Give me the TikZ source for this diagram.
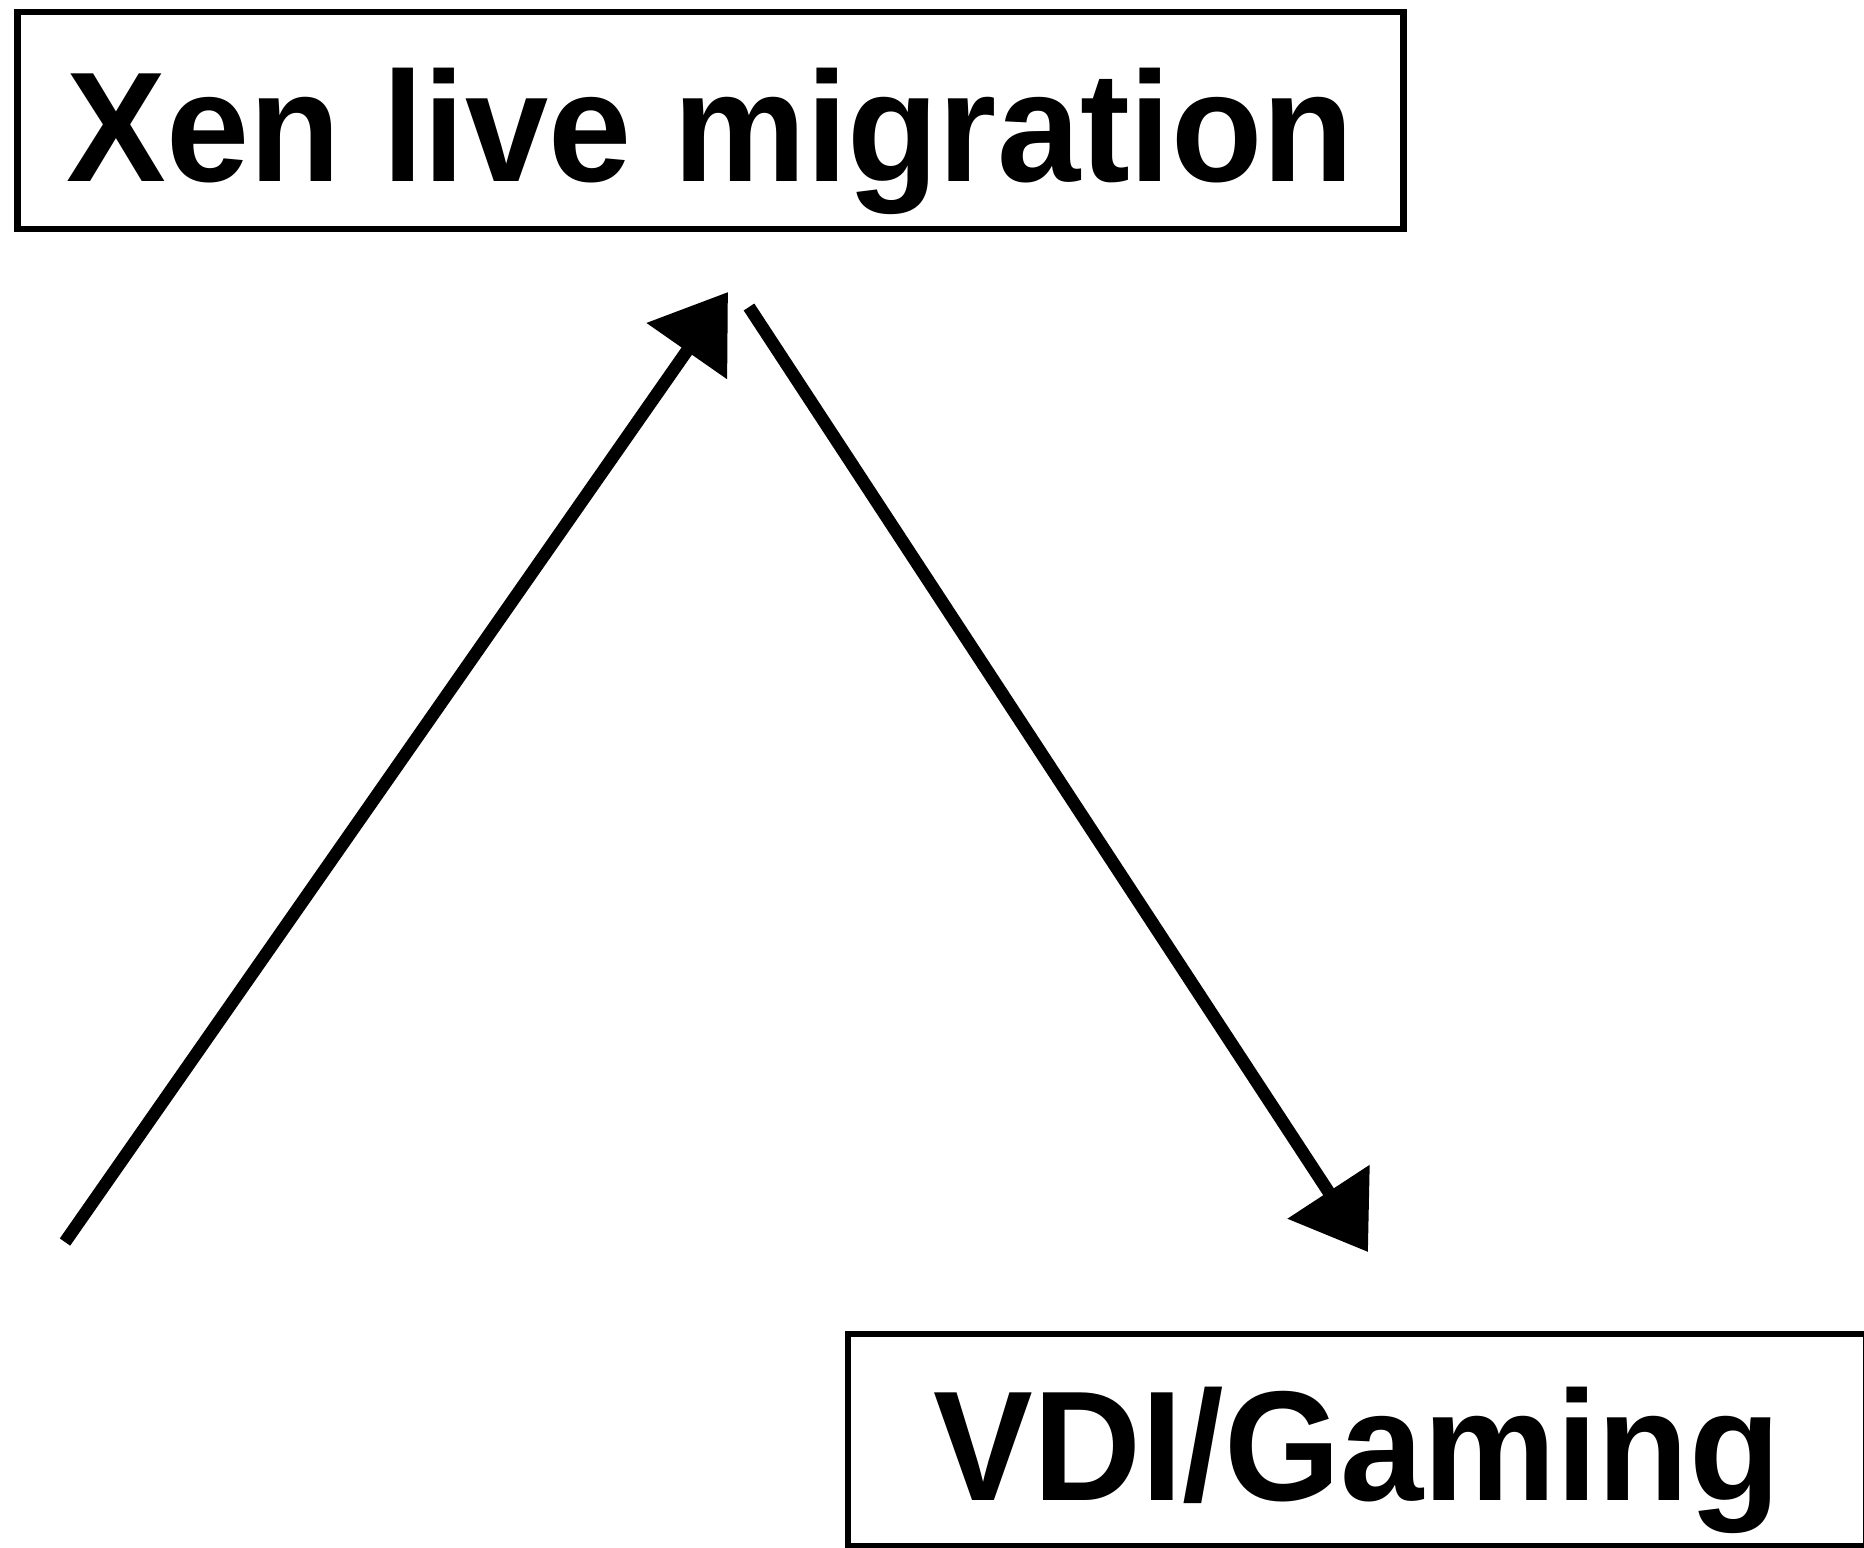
\documentclass[tikz,border=0pt]{standalone}
\usepackage{fontspec}
\setmainfont{Liberation Sans}
\newfontfamily\titlefont{Liberation Sans}[FakeStretch=0.955]
\usepackage{tikz}
\usetikzlibrary{arrows.meta,positioning}

\begin{document}
\begin{tikzpicture}[
    x=0.01cm, y=-0.01cm,
    title/.style={rectangle, draw, line width=1.8pt, inner sep=0pt,
                text height=1.21cm, text depth=0pt,
                font=\titlefont\fontsize{44.5}{52}\selectfont\bfseries},
    flow/.style={line width=3.6pt},
    >={Triangle[length=7.2mm, width=9.5mm]}
]
\useasboundingbox (0,0) rectangle (1864,1547);

\node[title, minimum width=13.85cm, minimum height=2.17cm] (xen) at (710.5,120.5) {Xen live migration};
\node[title, minimum width=10.18cm, minimum height=2.12cm] (vdi) at (1357,1440) {VDI/Gaming};

% arrow ends
\coordinate (start) at (65,1242);
\coordinate (uptip) at (728,292);
\coordinate (downtail) at (749,307);
\coordinate (downtip) at (1368,1252);

\draw[flow,->] (start) -- (uptip);
\draw[flow,->] (downtail) -- (downtip);
\end{tikzpicture}
\end{document}
